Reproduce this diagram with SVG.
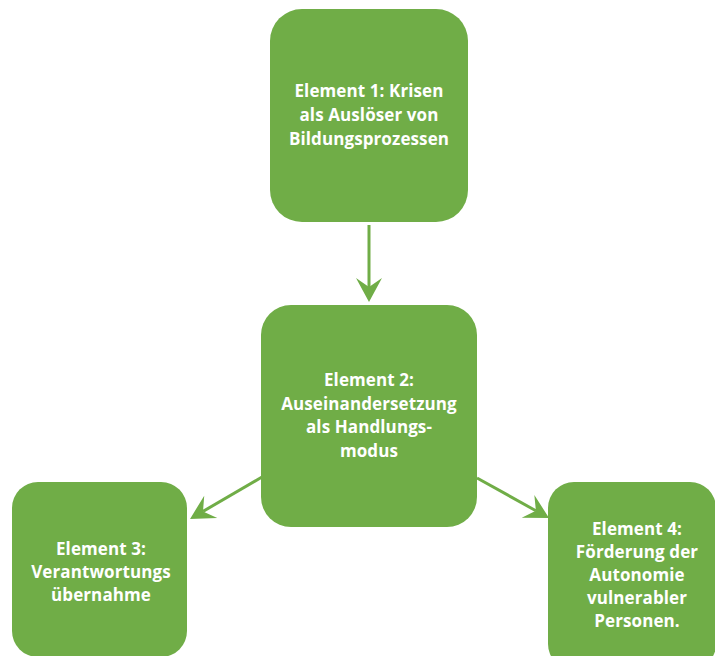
<svg xmlns="http://www.w3.org/2000/svg" width="715" height="656" viewBox="0 0 715 656">
<style>
.box{fill:#70AD47;}
.t{font-family:"Open Sans","Liberation Sans",sans-serif;font-weight:bold;font-size:17px;letter-spacing:0.1px;fill:#FFFFFF;text-anchor:middle;}
.c{stroke:#70AD47;stroke-width:3;fill:none;marker-end:url(#ah);}
</style>
<defs>
<marker id="ah" markerUnits="userSpaceOnUse" viewBox="-25 -14 26 28" refX="-15" refY="0" markerWidth="26" markerHeight="28" orient="auto">
<path d="M0,0 L-24,-13 L-15,0 L-24,13 Z" fill="#70AD47"/>
</marker>
</defs>
<rect width="715" height="656" fill="#FFFFFF"/>
<g id="connectors">
<line class="c" x1="369" y1="225" x2="369" y2="287"/>
<line class="c" x1="262" y1="477" x2="203" y2="511.4"/>
<line class="c" x1="477" y1="478" x2="535.9" y2="510.7"/>
</g>
<g id="node1">
<rect class="box" x="270" y="9" width="198" height="213" rx="32"/>
<text class="t" x="369" y="97">Element 1: Krisen</text>
<text class="t" x="369" y="121">als Auslöser von</text>
<text class="t" x="369" y="145">Bildungsprozessen</text>
</g>
<g id="node2">
<rect class="box" x="261" y="305" width="216" height="222" rx="30"/>
<text class="t" x="369" y="386">Element 2:</text>
<text class="t" x="369" y="410">Auseinandersetzung</text>
<text class="t" x="369" y="433">als Handlungs-</text>
<text class="t" x="369" y="457">modus</text>
</g>
<g id="node3">
<rect class="box" x="12" y="482" width="175" height="175" rx="26"/>
<text class="t" x="101" y="555">Element 3:</text>
<text class="t" x="101" y="578">Verantwortungs</text>
<text class="t" x="101" y="601">übernahme</text>
</g>
<g id="node4">
<rect class="box" x="548" y="482" width="168" height="188" rx="26"/>
<text class="t" x="637" y="535">Element 4:</text>
<text class="t" x="637" y="558">Förderung der</text>
<text class="t" x="637" y="581">Autonomie</text>
<text class="t" x="637" y="604">vulnerabler</text>
<text class="t" x="637" y="627">Personen.</text>
</g>
</svg>
